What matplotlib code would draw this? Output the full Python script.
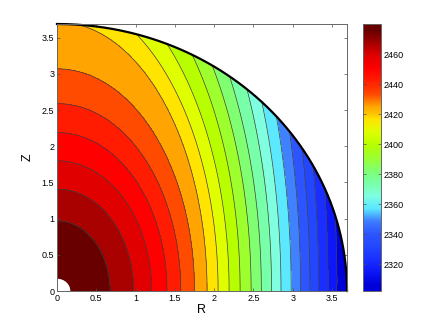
"""
Filled contour map of a quarter disk with a colorbar.
"""

import numpy as np
import matplotlib
matplotlib.use("Agg")
import matplotlib.pyplot as plt
from matplotlib.colors import LinearSegmentedColormap, Normalize
from matplotlib.cm import ScalarMappable
from matplotlib.patches import Wedge

OUTER_RADIUS = 3.69
INNER_RADIUS = 0.17
VALUE_MIN = 2302.0
VALUE_MAX = 2480.0

# contour levels, innermost first
CONTOUR_VALUES = [
    2471.5, 2463.0, 2454.6, 2446.1, 2437.6, 2429.1, 2420.7, 2412.2, 2403.7, 2395.2,
    2386.8, 2378.3, 2369.8, 2361.3, 2352.9, 2344.4, 2335.9, 2327.4, 2319.0, 2310.5,
]
# where each contour meets the R axis and the Z axis (semi-axes)
CONTOUR_R = [
    0.675, 0.975, 1.205, 1.40, 1.575, 1.75, 1.91, 2.05, 2.19, 2.33,
    2.47, 2.60, 2.73, 2.85, 2.98, 3.10, 3.22, 3.33, 3.45, 3.56,
]
CONTOUR_Z = [
    0.97, 1.41, 1.80, 2.19, 2.59, 3.07, 3.72, 4.08, 4.44, 4.84,
    5.19, 5.54, 6.00, 6.45, 6.90, 7.40, 7.90, 8.40, 8.90, 9.40,
]

AXIS_TICKS = [0, 0.5, 1, 1.5, 2, 2.5, 3, 3.5]
AXIS_TICK_LABELS = ["0", "0.5", "1", "1.5", "2", "2.5", "3", "3.5"]
CBAR_TICKS = [2320, 2340, 2360, 2380, 2400, 2420, 2440, 2460]

# colour of each band, from the centre outwards
BAND_COLORS = [
    "#680000", "#aa0000", "#e20000", "#ff0000", "#ff1e00", "#ff4a00",
    "#ffa400", "#ffe400", "#deff00", "#b6ff00", "#9cff30", "#80ff70",
    "#78ffa8", "#80ffe0", "#5ce8ff", "#3f80ff", "#2d55ff", "#2348ff",
    "#1a30ff", "#0d18f8", "#0000d8",
]


def build_field(r_grid, z_grid):
    """Value field whose iso-lines are the read contour ellipses."""
    values = np.array(CONTOUR_VALUES)
    a = np.array(CONTOUR_R)[:, None, None]
    b = np.array(CONTOUR_Z)[:, None, None]
    q = np.sqrt((r_grid / a) ** 2 + (z_grid / b) ** 2)
    n = len(values)

    n_out = (q > 1).sum(axis=0)
    inner = np.clip(n_out - 1, 0, n - 1)
    outer = np.clip(n_out, 0, n - 1)
    q_in = np.take_along_axis(q, inner[None], 0)[0]
    q_out = np.take_along_axis(q, outer[None], 0)[0]
    denom = np.where(np.abs(q_in - q_out) < 1e-9, 1.0, q_in - q_out)
    frac = np.clip((q_in - 1) / denom, 0, 1)
    field = values[inner] + frac * (values[outer] - values[inner])

    centre = n_out == 0
    field[centre] = values[0] + (VALUE_MAX - values[0]) * np.clip(1 - q[0][centre], 0.01, 0.99)
    edge = n_out == n
    field[edge] = values[-1] - (values[-1] - VALUE_MIN) * np.clip(q[-1][edge] - 1, 0.01, 0.99)
    return field


def create_contour_chart() -> None:
    plt.rcParams["font.family"] = ["Liberation Sans", "DejaVu Sans"]

    theta = np.linspace(0, np.pi / 2, 400)
    radius = np.linspace(0.0, OUTER_RADIUS, 400)
    theta_grid, radius_grid = np.meshgrid(theta, radius)
    r_grid = radius_grid * np.cos(theta_grid)
    z_grid = radius_grid * np.sin(theta_grid)
    field = build_field(r_grid, z_grid)

    values = np.array(CONTOUR_VALUES)
    levels = np.concatenate([[VALUE_MIN], values[::-1], [VALUE_MAX]])
    mids = (levels[:-1] + levels[1:]) / 2
    span = VALUE_MAX - VALUE_MIN
    colors_up = BAND_COLORS[::-1]
    nodes = [(0.0, colors_up[0])]
    nodes += [((m - VALUE_MIN) / span, c) for m, c in zip(mids, colors_up)]
    nodes += [(1.0, colors_up[-1])]
    cmap = LinearSegmentedColormap.from_list("bands", nodes, N=256)
    norm = Normalize(VALUE_MIN, VALUE_MAX)

    fig = plt.figure(figsize=(4.36, 3.28), dpi=100)
    ax = fig.add_axes([0.1307, 0.1128, 0.6652, 0.8140])

    ax.contourf(r_grid, z_grid, field, levels=levels, cmap=cmap, norm=norm)
    ax.contour(r_grid, z_grid, field, levels=values[::-1], colors="0.25", linewidths=0.5)

    # hollow core
    ax.add_patch(Wedge((0, 0), INNER_RADIUS, 0, 90, facecolor="white",
                       edgecolor="none", zorder=3))

    arc = np.linspace(0, np.pi / 2, 300)
    ax.plot(OUTER_RADIUS * np.cos(arc), OUTER_RADIUS * np.sin(arc),
            color="k", linewidth=1.6, clip_on=False, zorder=4)

    ax.set_xlim(0, OUTER_RADIUS)
    ax.set_ylim(0, OUTER_RADIUS)
    ax.set_xticks(AXIS_TICKS, AXIS_TICK_LABELS)
    ax.set_yticks(AXIS_TICKS, AXIS_TICK_LABELS)
    ax.tick_params(direction="in", top=True, right=True, length=2.5, width=0.5,
                   labelsize=6.5, pad=2, colors="0.3", labelcolor="k")
    for spine in ax.spines.values():
        spine.set_color("0.4")
        spine.set_linewidth(0.7)
        spine.set_zorder(5)
    ax.set_xlabel("R", fontsize=9, labelpad=1)
    ax.set_ylabel("Z", fontsize=9, labelpad=6)

    cax = fig.add_axes([0.8326, 0.1128, 0.0413, 0.8140])
    cbar = fig.colorbar(ScalarMappable(norm=norm, cmap=cmap), cax=cax)
    cbar.set_ticks(CBAR_TICKS)
    cbar.outline.set_edgecolor("0.4")
    cbar.outline.set_linewidth(0.7)
    cax.tick_params(direction="in", left=True, right=True, length=2.5, width=0.5,
                    labelsize=6.5, pad=2, colors="0.3", labelcolor="k")

    fig.savefig("out.png", dpi=100)


if __name__ == "__main__":
    create_contour_chart()
